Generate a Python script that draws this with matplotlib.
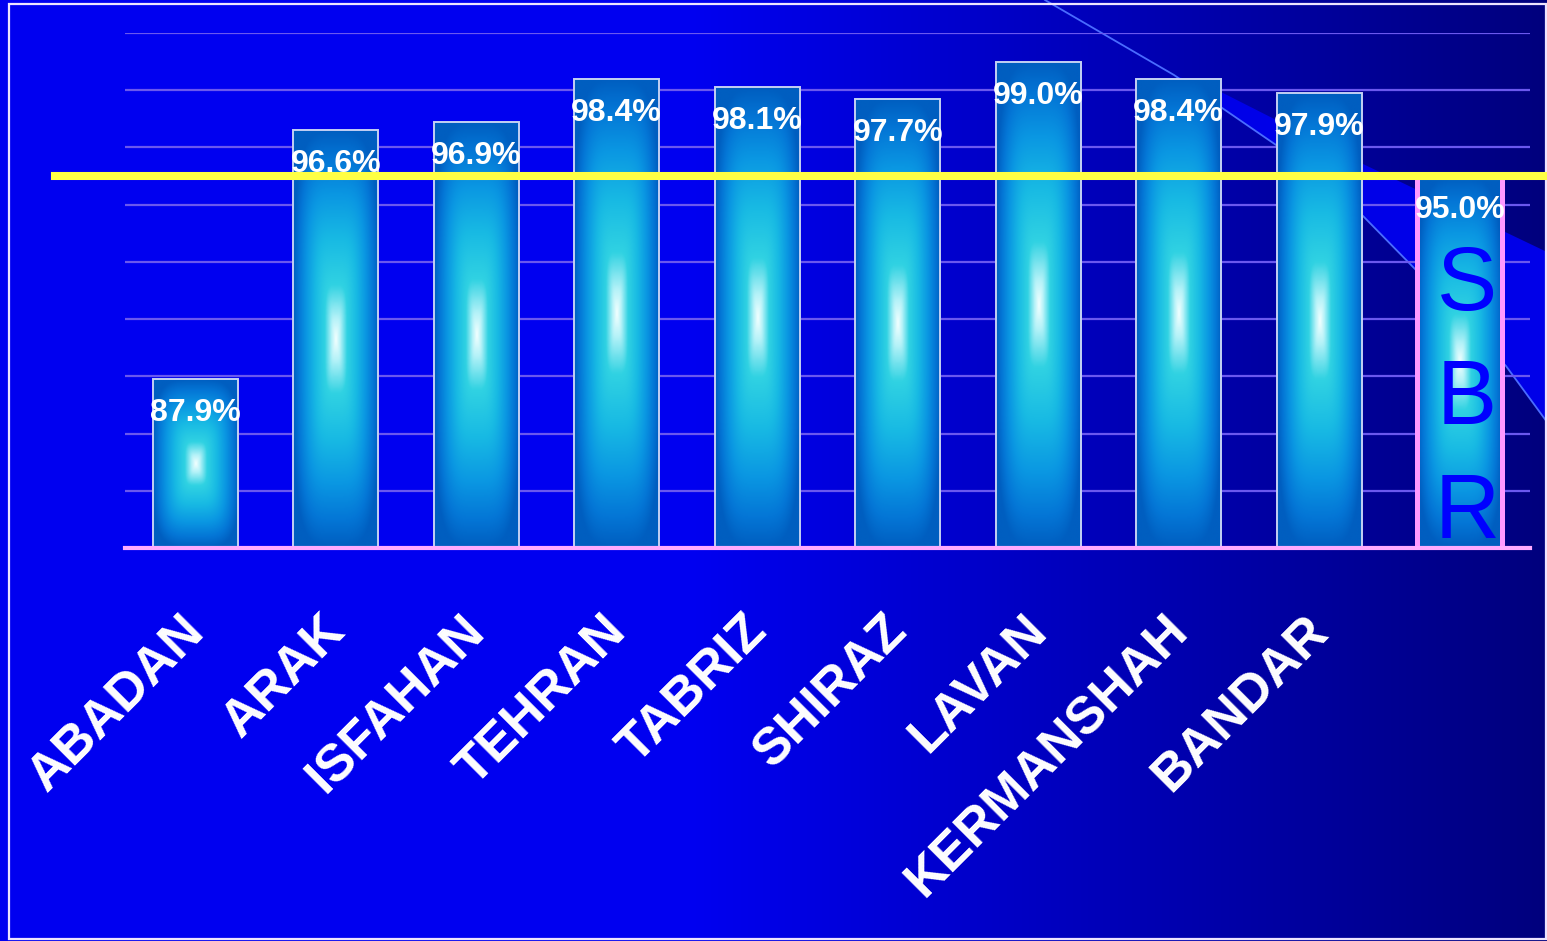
import matplotlib
matplotlib.use("Agg")
import matplotlib.pyplot as plt
import numpy as np
from matplotlib.colors import LinearSegmentedColormap
from matplotlib.patches import Polygon, Rectangle

plt.rcParams["font.family"] = ["Liberation Sans", "DejaVu Sans"]

# refinery on-stream figures
cities = ["ABADAN", "ARAK", "ISFAHAN", "TEHRAN", "TABRIZ", "SHIRAZ",
          "LAVAN", "KERMANSHAH", "BANDAR"]
city_values = [87.9, 96.6, 96.9, 98.4, 98.1, 97.7, 99.0, 98.4, 97.9]
sbr_label = "SBR"
sbr_value = 95.0
target = 95.0
y_min, y_max, y_step = 82, 100, 2

W, H = 1547, 941
fig = plt.figure(figsize=(W / 100, H / 100), dpi=100)

# slide background: flat blue fading to navy on the right
bg = fig.add_axes([0, 0, 1, 1], zorder=0)
bg.set_xlim(0, W)
bg.set_ylim(H, 0)
bg.axis("off")
t = np.linspace(0, 1, W)
blue = np.where(t < 0.45, 240, 240 - (t - 0.45) / 0.55 * 115)
grad = np.zeros((2, W, 3))
grad[..., 2] = blue / 255
bg.imshow(grad, extent=(0, W, H, 0), aspect="auto", zorder=0)

# swoosh decoration in the top right corner
arc = [(1045, 0), (1174, 75), (1279, 147), (1363, 216), (1415, 269),
       (1506, 366), (1547, 422)]
upper = [(1174, 75), (1223, 93), (1363, 164), (1547, 252)]
bg.add_patch(Polygon(upper + arc[1:][::-1], closed=True, facecolor="#0000E8",
                     edgecolor="none", zorder=1))
arc_x, arc_y = zip(*arc)
bg.plot(arc_x, arc_y, color="#4A6CFF", lw=1.3, zorder=2)
bg.add_patch(Rectangle((8.5, 3.5), 1537.5, 935, facecolor="none",
                       edgecolor="#EDE4FF", lw=1.6, zorder=3))

# chart area
ax = fig.add_axes([125 / W, (H - 548) / H, 1405 / W, 515 / H], zorder=1)
ax.patch.set_alpha(0)

labels = cities + [sbr_label]
values = np.array(city_values + [sbr_value])
x = np.arange(len(labels))

bars = ax.bar(x, values - y_min, bottom=y_min, width=0.605, facecolor="none",
              edgecolor="#C4D0F4", lw=1.4, zorder=3)
bars[-1].set_edgecolor("#FF99FF")
bars[-1].set_linewidth(3.6)

# glowing fill: rounded-rectangle gradient from the centre of each bar
n = 240
u = np.abs(np.linspace(-1, 1, n))
dist = (u[None, :] ** 4 + u[:, None] ** 4) ** 0.25
dist = np.clip(dist, 0, 1)
glow = LinearSegmentedColormap.from_list("glow", [
    (0.0, "#F2FFFF"), (0.1, "#B4F2F8"), (0.26, "#30D2E2"), (0.48, "#18BAE4"),
    (0.7, "#0A96E2"), (0.87, "#0476D6"), (1.0, "#005EC0")])
for b in bars:
    ax.imshow(dist, cmap=glow, vmin=0, vmax=1, aspect="auto", zorder=2,
              interpolation="bilinear",
              extent=(b.get_x(), b.get_x() + b.get_width(),
                      b.get_y(), b.get_y() + b.get_height()))

for b, v in zip(bars, values):
    ax.annotate(f"{v:.1f}%", (b.get_x() + b.get_width() / 2, v),
                xytext=(0, -42), textcoords="offset pixels", ha="center",
                va="baseline", color="white", fontsize=23, fontweight="bold",
                zorder=5)

# SBR written down its own bar
for i, ch in enumerate(sbr_label):
    ax.annotate(ch, (x[-1], y_min), xytext=(7, 238 - 114 * i),
                textcoords="offset pixels", ha="center", va="baseline",
                color="#0000FF", fontsize=65, zorder=5)

# refinery names, slanted
for xi, name in zip(x, cities):
    ax.annotate(name, (xi, y_min), xytext=(11, -85), textcoords="offset pixels",
                rotation=45, rotation_mode="anchor", ha="right", va="baseline",
                color="white", fontsize=37.5, fontweight="bold",
                annotation_clip=False)

# target line
ax.axhline(target, xmin=(55 - 125) / 1405, xmax=(W - 125) / 1405,
           color="#FFFF44", lw=5.8, clip_on=False, zorder=6)

ax.set_xlim(-0.5, len(labels) - 0.5)
ax.set_ylim(y_min, y_max)
ax.set_xticks([])
ax.set_yticks(np.arange(y_min + y_step, y_max + 1, y_step))
ax.yaxis.grid(True, color="#6A58EE", lw=1.6)
ax.set_axisbelow(True)
ax.tick_params(left=False, labelleft=False)
for side in ("top", "left", "right"):
    ax.spines[side].set_visible(False)
ax.spines["bottom"].set_color("#FFAAFF")
ax.spines["bottom"].set_linewidth(3)
ax.spines["bottom"].set_zorder(4)

fig.savefig("out.png", dpi=100)
